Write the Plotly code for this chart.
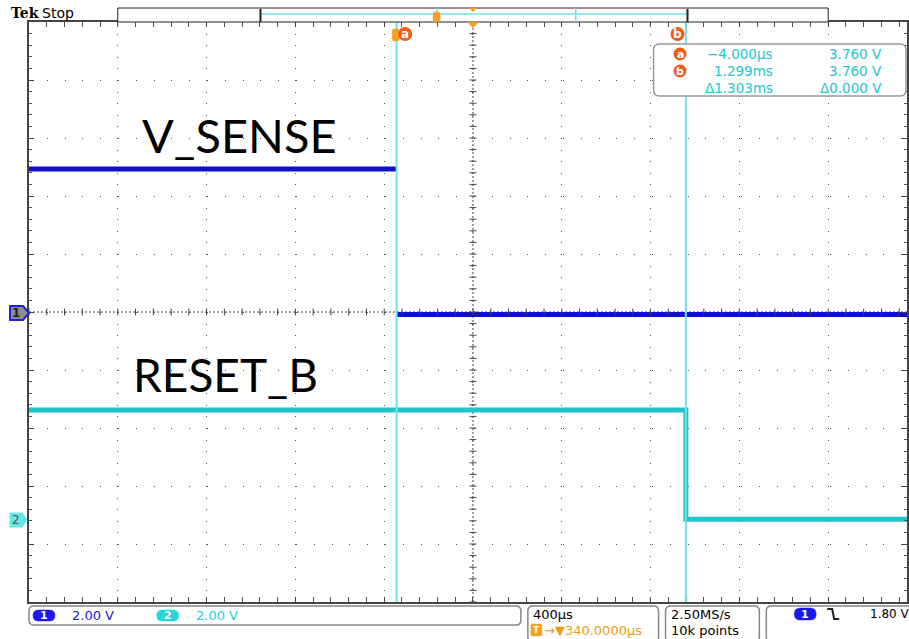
import plotly.graph_objects as go

# ---------------- data ----------------
ch1_t = [-1660, -4, None, -4, 2300]        # µs (edge hidden behind cursor a)
ch1_v = [4.93, 4.93, None, -0.09, -0.09]   # V
ch2_t = [-1660, 1299, 1299, 2300]          # µs
ch2_v = [3.79, 3.79, 0.02, 0.02]           # V
cursor_t = [-4, 1299]                      # µs
cursor_labels = ["a", "b"]
readout_time = ["\u22124.000µs", "1.299ms", "\u03941.303ms"]
readout_volt = ["3.760 V", "3.760 V", "\u03940.000 V"]

TIME_DIV = 400.0   # µs/div
T_CENTER = 340.0   # µs at screen centre
V_DIV = 2.0        # V/div both channels

W, H = 909, 639
L, T, B = 29, 22, 602
PW = W - L
PH = B - T
DIVX = 89.0
x_left = T_CENTER - 5 * TIME_DIV
x_right = x_left + PW / DIVX * TIME_DIV

CH1 = "#1010c8"
CH2 = "#1fc6c8"
CUR = "#6fe2ea"
ORG = "#f05a1a"
TXTC = "#22c4d4"
GRID = "#555555"


def px(x):
    return (x - L) / PW


def py(y):
    return (B - y) / PH


fig = go.Figure()

# traces
fig.add_trace(go.Scatter(x=ch1_t, y=ch1_v, mode="lines", line=dict(color=CH1, width=5),
                         yaxis="y", hoverinfo="skip", showlegend=False, connectgaps=False))
fig.add_trace(go.Scatter(x=ch2_t, y=ch2_v, mode="lines", line=dict(color=CH2, width=5),
                         yaxis="y2", hoverinfo="skip", showlegend=False))

# centre cross tick marks
nx = 50
fig.add_trace(go.Scatter(x=[x_left + k * TIME_DIV / 5 for k in range(nx + 1)], y=[0] * (nx + 1),
                         mode="markers", marker=dict(symbol="line-ns", size=5,
                                                     line=dict(color="#444", width=1)),
                         hoverinfo="skip", showlegend=False))
fig.add_trace(go.Scatter(x=[T_CENTER] * 51, y=[-10 + k * 0.4 for k in range(51)],
                         mode="markers", marker=dict(symbol="line-ew", size=5,
                                                     line=dict(color="#444", width=1)),
                         hoverinfo="skip", showlegend=False))

shapes = []
ann = []

# centre cross lines
shapes.append(dict(type="line", xref="paper", yref="y", x0=0, x1=1, y0=0, y1=0,
                   line=dict(color="#444", width=1, dash="2px,2px"), layer="below"))
shapes.append(dict(type="line", xref="x", yref="paper", x0=T_CENTER, x1=T_CENTER, y0=0, y1=1,
                   line=dict(color="#444", width=1, dash="2px,2px"), layer="below"))

# cursor lines
for ct in cursor_t:
    shapes.append(dict(type="line", xref="x", yref="paper", x0=ct, x1=ct, y0=0, y1=1,
                       line=dict(color=CUR, width=2), layer="above"))


def rect(x0, y0, x1, y1, line="#888", fill="white", lw=1):
    shapes.append(dict(type="rect", xref="paper", yref="paper", x0=px(x0), x1=px(x1),
                       y0=py(y1), y1=py(y0), line=dict(color=line, width=lw), fillcolor=fill))


def rrect(x0, y0, x1, y1, r=5, line="#888", fill="white", lw=1.5):
    p = (f"M{px(x0+r)},{py(y0)} L{px(x1-r)},{py(y0)} Q{px(x1)},{py(y0)} {px(x1)},{py(y0+r)} "
         f"L{px(x1)},{py(y1-r)} Q{px(x1)},{py(y1)} {px(x1-r)},{py(y1)} "
         f"L{px(x0+r)},{py(y1)} Q{px(x0)},{py(y1)} {px(x0)},{py(y1-r)} "
         f"L{px(x0)},{py(y0+r)} Q{px(x0)},{py(y0)} {px(x0+r)},{py(y0)} Z")
    shapes.append(dict(type="path", xref="paper", yref="paper", path=p,
                       line=dict(color=line, width=lw), fillcolor=fill))


def poly(pts, fill, line=None, lw=0):
    p = "M" + " L".join(f"{px(a)},{py(b)}" for a, b in pts) + " Z"
    shapes.append(dict(type="path", xref="paper", yref="paper", path=p, fillcolor=fill,
                       line=dict(color=line or fill, width=lw)))


def text(x, y, s, size=13, color="black", xa="left", ya="middle", family="DejaVu Sans", **kw):
    ann.append(dict(xref="paper", yref="paper", x=px(x), y=py(y), text=s, showarrow=False,
                    xanchor=xa, yanchor=ya, font=dict(size=size, color=color, family=family), **kw))


# ---- top bar ----
text(9, 13, "<b>Tek</b>", size=14, family="DejaVu Serif")
text(40, 13, "Stop", size=14, family="DejaVu Sans")
rect(118, 8, 830, 22, line="#222", lw=1)
shapes.append(dict(type="line", xref="paper", yref="paper", x0=px(262), x1=px(690), y0=py(14), y1=py(14),
                   line=dict(color=CUR, width=1.5)))
for xx in (261, 689):
    shapes.append(dict(type="line", xref="paper", yref="paper", x0=px(xx), x1=px(xx), y0=py(9), y1=py(22),
                       line=dict(color="#222", width=2)))
for xx in (438, 577):
    shapes.append(dict(type="line", xref="paper", yref="paper", x0=px(xx), x1=px(xx), y0=py(8), y1=py(22),
                       line=dict(color=CUR, width=1.5)))
rrect(434, 12, 441, 22, r=2, line="#f5a020", fill="#f5a020", lw=0.5)
poly([(470, 8), (478, 8), (474, 12)], "#f5a020")
poly([(468, 22), (480, 22), (474, 28)], "#f5a020")

# cursor labels
rrect(393, 29, 400, 41, r=2, line="#f5a020", fill="#f5a020", lw=0.5)
for ct, lab in zip([406, 679], cursor_labels):
    shapes.append(dict(type="circle", xref="paper", yref="paper", x0=px(ct - 7), x1=px(ct + 7),
                       y0=py(41), y1=py(27), fillcolor=ORG, line=dict(color=ORG, width=0)))
    text(ct, 34, f"<b>{lab}</b>", size=12, color="white", xa="center")

# readout box
rrect(655, 44, 908, 96, r=6, line="#999", lw=1.5)
rows = [54, 71, 88]
for i, yy in enumerate(rows):
    if i < 2:
        shapes.append(dict(type="circle", xref="paper", yref="paper", x0=px(675), x1=px(688),
                           y0=py(yy + 6.5), y1=py(yy - 6.5), fillcolor=ORG, line=dict(color=ORG, width=0)))
        text(681.5, yy, f"<b>{cursor_labels[i]}</b>", size=11, color="white", xa="center")
    text(777, yy, readout_time[i], size=13.5, color=TXTC, xa="right")
    text(886, yy, readout_volt[i], size=13.5, color=TXTC, xa="right")

# big labels
text(140, 135, "V_SENSE", size=47, family="Lato")
text(131, 374, "RESET_B", size=46, family="Lato")

# channel markers
poly([(10, 306), (23, 306), (29, 313), (23, 320), (10, 320)], "#8c8c8c", line="#2020e0", lw=2)
text(16, 313, "<b>1</b>", size=12, color="#222", xa="center")
poly([(10, 513), (22, 513), (27, 520), (22, 527), (10, 527)], "#66e6e6", line="#66e6e6", lw=1)
text(16, 520, "2", size=12, color="#555", xa="center")

# ---- bottom bar ----
rrect(29, 606, 522, 625, r=5)
rrect(529, 606, 660, 642, r=5)
rrect(667, 606, 761, 642, r=5)
rrect(768, 606, 925, 642, r=5)
rrect(33, 610, 55, 621, r=5.5, line="#1818f0", fill="#1818f0", lw=0.5)
text(44, 615.5, "<b>1</b>", size=11, color="white", xa="center")
text(70, 615.5, "2.00 V", size=13, color="#2020e0")
rrect(157, 610, 179, 621, r=5.5, line="#22d8d8", fill="#22d8d8", lw=0.5)
text(168, 615.5, "<b>2</b>", size=11, color="white", xa="center")
text(194, 615.5, "2.00 V", size=13, color="#22d0d8")

text(532, 614, "400µs", size=13, color="black")
rrect(532, 624, 543, 636, r=1.5, line="#f5a020", fill="#f5a020", lw=0.5)
text(537.5, 630, "<b>T</b>", size=9, color="white", xa="center")
text(543, 630, "\u2192\u25bc340.0000µs", size=13, color="#f09a10")

text(670, 614, "2.50MS/s", size=13, color="black")
text(670, 630, "10k points", size=13, color="black")

rrect(796, 608, 818, 620, r=6, line="#1818f0", fill="#1818f0", lw=0.5)
text(807, 614, "<b>1</b>", size=11, color="white", xa="center")
shapes.append(dict(type="path", xref="paper", yref="paper",
                   path=f"M{px(829)},{py(609)} L{px(834)},{py(609)} L{px(836)},{py(619)} L{px(841)},{py(619)}",
                   line=dict(color="#222", width=2)))
text(870, 614, "1.80 V", size=12, color="black")

fig.update_layout(
    width=W, height=H,
    margin=dict(l=L, r=0, t=T, b=H - B, pad=0),
    paper_bgcolor="white", plot_bgcolor="white",
    showlegend=False,
    shapes=shapes, annotations=ann,
    xaxis=dict(range=[x_left, x_right], tick0=x_left, dtick=TIME_DIV,
               showgrid=True, gridcolor=GRID, gridwidth=1, griddash="1px,10.6px",
               showline=True, linecolor="#444", linewidth=2, mirror="allticks",
               ticks="inside", ticklen=5, tickcolor="#444", showticklabels=False, zeroline=False,
               minor=dict(ticks="inside", dtick=TIME_DIV / 5, tick0=x_left, ticklen=3,
                          tickcolor="#555", showgrid=False)),
    yaxis=dict(range=[-5 * V_DIV, 5 * V_DIV], tick0=0, dtick=V_DIV,
               showgrid=True, gridcolor=GRID, gridwidth=1, griddash="1px,16.8px",
               showline=True, linecolor="#444", linewidth=2, mirror="allticks",
               ticks="inside", ticklen=5, tickcolor="#444", showticklabels=False, zeroline=False,
               minor=dict(ticks="inside", dtick=V_DIV / 5, tick0=0, ticklen=3,
                          tickcolor="#555", showgrid=False)),
    yaxis2=dict(range=[-5 * V_DIV + 7.17, 5 * V_DIV + 7.17], overlaying="y", visible=False),
)

fig.write_html("out.html", config={"displayModeBar": False},
               post_script="document.body.style.margin='0';document.body.style.overflow='hidden';")
